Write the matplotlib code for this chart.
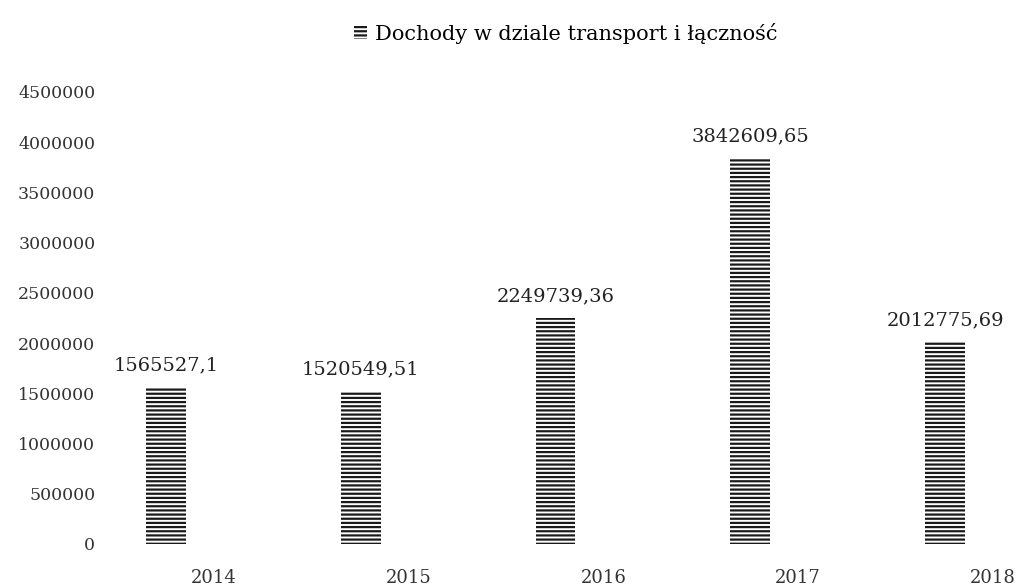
import matplotlib
matplotlib.use("Agg")
import matplotlib.pyplot as plt
from matplotlib.patches import Patch

years = ["2014", "2015", "2016", "2017", "2018"]
values = [1565527.1, 1520549.51, 2249739.36, 3842609.65, 2012775.69]
value_labels = ["1565527,1", "1520549,51", "2249739,36", "3842609,65", "2012775,69"]
series_name = "Dochody w dziale transport i łączność"
yticks = [0, 500000, 1000000, 1500000, 2000000, 2500000, 3000000, 3500000, 4000000, 4500000]

plt.rcParams['font.family'] = ['DejaVu Serif']
plt.rcParams['hatch.linewidth'] = 1.6
plt.rcParams['hatch.color'] = '#1a1a1a'

fig = plt.figure(figsize=(10.23, 5.85), dpi=100)
W, H = 1023, 585
left, right = 130, 1010
top, bottom = 92, 544
ax = fig.add_axes([left / W, (H - bottom) / H, (right - left) / W, (bottom - top) / H])

x = list(range(len(years)))
ax.bar(x, values, width=0.205, color='white', edgecolor='#1a1a1a',
       linewidth=0, hatch='----')

for xi, v, lab in zip(x, values, value_labels):
    ax.annotate(lab, (xi, v), xytext=(0, 9), textcoords='offset points',
                ha='center', va='bottom', fontsize=14, color='#222222')

# year labels (shifted right of bars as in the reference)
for xi, yr in zip(x, years):
    ax.annotate(yr, (xi, 0), xytext=(34.5, -24.5), textcoords='offset points',
                ha='center', va='center', fontsize=13, color='#333333',
                annotation_clip=False)

ax.set_xlim(-36 / 194.75, 4 + 65 / 194.75)
ax.set_ylim(0, 4500000)
ax.set_yticks(yticks)
ax.set_yticklabels([str(t) for t in yticks], fontsize=12.5, color='#333333')
ax.set_xticks([])
ax.tick_params(axis='both', length=0)
ax.tick_params(axis='y', pad=25)
for s in ax.spines.values():
    s.set_visible(False)

handle = Patch(facecolor='white', edgecolor='#1a1a1a', linewidth=0, hatch='----')
fig.legend([handle], [series_name], loc='center', bbox_to_anchor=(566 / W, 1 - 33 / H),
           frameon=False, fontsize=15, handlelength=0.6, handleheight=0.6,
           handletextpad=0.4)

fig.savefig("out.png", dpi=100, facecolor='white')
